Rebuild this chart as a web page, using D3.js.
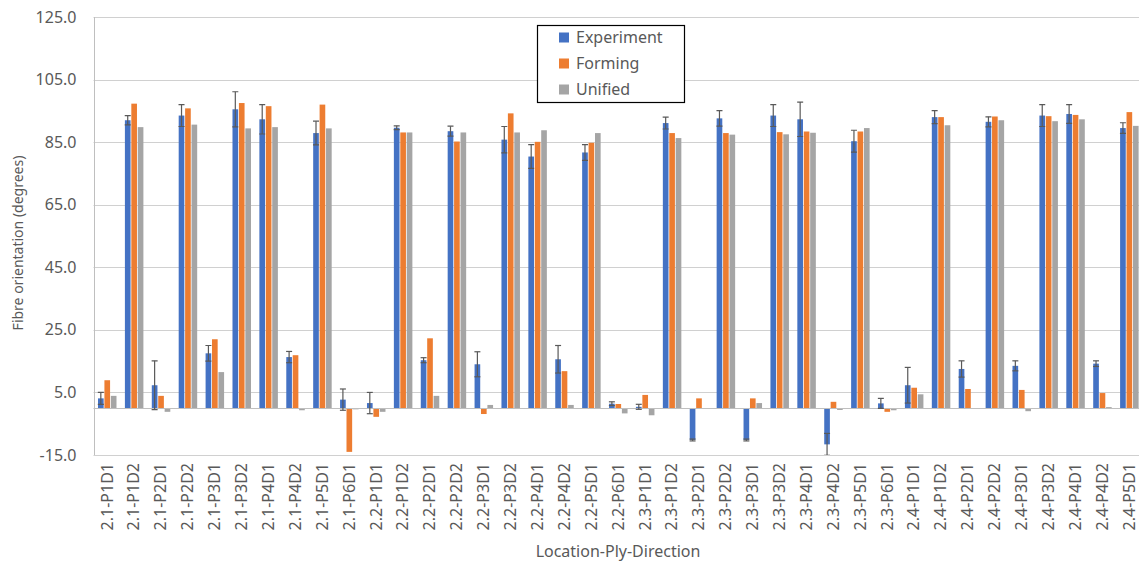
<!DOCTYPE html>
<html>
<head>
<meta charset="utf-8">
<script src="https://cdn.jsdelivr.net/npm/d3@7"></script>
<style>
  html, body { margin: 0; padding: 0; background: #fff; }
  svg { display: block; font-family: "Noto Sans", "Open Sans", sans-serif; }
</style>
</head>
<body>
<svg id="chart" width="1139" height="565"></svg>
<script>
const categories = ["2.1-P1D1","2.1-P1D2","2.1-P2D1","2.1-P2D2","2.1-P3D1","2.1-P3D2","2.1-P4D1","2.1-P4D2","2.1-P5D1","2.1-P6D1",
  "2.2-P1D1","2.2-P1D2","2.2-P2D1","2.2-P2D2","2.2-P3D1","2.2-P3D2","2.2-P4D1","2.2-P4D2","2.2-P5D1","2.2-P6D1",
  "2.3-P1D1","2.3-P1D2","2.3-P2D1","2.3-P2D2","2.3-P3D1","2.3-P3D2","2.3-P4D1","2.3-P4D2","2.3-P5D1","2.3-P6D1",
  "2.4-P1D1","2.4-P1D2","2.4-P2D1","2.4-P2D2","2.4-P3D1","2.4-P3D2","2.4-P4D1","2.4-P4D2","2.4-P5D1"];
const experiment = [3.1, 92.0, 7.3, 93.5, 17.5, 95.5, 92.3, 16.3, 87.9, 2.7,
  1.6, 89.6, 15.3, 88.5, 14.0, 85.8, 80.4, 15.6, 81.7, 1.4,
  0.4, 91.1, -10.2, 92.6, -10.2, 93.5, 92.3, -11.6, 85.3, 1.5,
  7.3, 93.0, 12.5, 91.5, 13.5, 93.5, 94.0, 14.2, 89.5];
const experimentError = [1.9, 1.5, 7.8, 3.5, 2.5, 5.6, 4.7, 1.8, 3.8, 3.4,
  3.4, 0.6, 0.8, 1.6, 4.0, 4.2, 3.8, 4.4, 2.5, 0.6,
  0.8, 1.9, 0.3, 2.5, 0.3, 3.5, 5.5, 3.5, 3.5, 1.6,
  5.7, 2.1, 2.6, 1.6, 1.6, 3.5, 3.0, 0.9, 1.7];
const forming = [8.9, 97.3, 3.9, 95.8, 22.0, 97.5, 96.5, 16.9, 97.0, -14.0,
  -2.8, 88.1, 22.3, 85.2, -1.9, 94.2, 85.1, 11.8, 84.8, 1.3,
  4.2, 87.9, 3.1, 87.9, 3.1, 88.2, 88.4, 2.0, 88.4, -1.2,
  6.5, 93.0, 6.1, 93.2, 5.8, 93.3, 93.7, 4.8, 94.6];
const unified = [3.9, 89.8, -1.2, 90.6, 11.5, 89.4, 89.8, -0.7, 89.4, -0.4,
  -1.2, 88.1, 3.9, 88.1, 1.0, 88.1, 88.8, 1.0, 87.9, -1.7,
  -2.3, 86.3, 0, 87.4, 1.6, 87.5, 88.0, -0.6, 89.5, -0.7,
  4.4, 90.4, 0, 92.0, -1.0, 91.7, 92.3, 0.3, 90.2];
const seriesNames = ["Experiment", "Forming", "Unified"];
const seriesColors = ["#4472C4", "#ED7D31", "#A5A5A5"];
const yTicks = [-15, 5, 25, 45, 65, 85, 105, 125];
const yTitle = "Fibre orientation (degrees)";
const xTitle = "Location-Ply-Direction";

const seriesValues = [experiment, forming, unified];

const svg = d3.select("#chart");
const pLeft = 93.5, pRight = 1142.5, pTop = 17, pBottom = 455;

const x = d3.scaleBand().domain(categories).range([pLeft, pRight]).padding(0);
const sub = d3.scaleBand().domain(seriesNames).range([4.5, 23]).paddingInner(0.12);
const y = d3.scaleLinear().domain([-15, 125]).range([pBottom, pTop]);

svg.append("defs").append("clipPath").attr("id", "plotclip")
  .append("rect").attr("x", pLeft).attr("y", pTop).attr("width", pRight - pLeft).attr("height", pBottom - pTop);

// gridlines
svg.append("g").selectAll("line").data(yTicks).join("line")
  .attr("x1", pLeft).attr("x2", pRight)
  .attr("y1", d => Math.round(y(d)) + 0.5).attr("y2", d => Math.round(y(d)) + 0.5)
  .attr("stroke", "#d0d0d0").attr("stroke-width", 1);

// y axis labels
const fmt = d3.format(".1f");
const yAxis = d3.axisLeft(y).tickValues(yTicks).tickFormat(d => fmt(d).replace("\u2212", "-")).tickSize(0).tickPadding(17);
const yg = svg.append("g").attr("transform", `translate(${pLeft},0)`).call(yAxis);
yg.select(".domain").remove();
yg.selectAll("text").attr("font-size", 16).attr("fill", "#595959").attr("font-family", "Noto Sans, sans-serif");

// left axis line
svg.append("line").attr("x1", Math.round(pLeft) + 0.5).attr("x2", Math.round(pLeft) + 0.5)
  .attr("y1", pTop).attr("y2", pBottom).attr("stroke", "#bfbfbf");

// bars
const barsG = svg.append("g").attr("clip-path", "url(#plotclip)");
seriesNames.forEach((name, si) => {
  barsG.append("g").selectAll("rect").data(categories.map((c, i) => ({c, v: seriesValues[si][i]}))).join("rect")
    .attr("x", d => x(d.c) + sub(name))
    .attr("width", sub.bandwidth())
    .attr("y", d => y(Math.max(0, d.v)))
    .attr("height", d => Math.abs(y(d.v) - y(0)))
    .attr("fill", seriesColors[si]);
});

// zero axis line
svg.append("line").attr("x1", pLeft).attr("x2", pRight)
  .attr("y1", Math.round(y(0)) + 0.5).attr("y2", Math.round(y(0)) + 0.5)
  .attr("stroke", "#bfbfbf").attr("stroke-width", 1.2);

// error bars on Experiment
const errG = svg.append("g").attr("clip-path", "url(#plotclip)").attr("stroke", "#595959").attr("stroke-width", 1.2);
categories.forEach((c, i) => {
  const cx = x(c) + sub("Experiment") + sub.bandwidth() / 2;
  const v = experiment[i], e = experimentError[i];
  errG.append("line").attr("x1", cx).attr("x2", cx).attr("y1", y(v + e)).attr("y2", y(v - e));
  errG.append("line").attr("x1", cx - 3).attr("x2", cx + 3).attr("y1", y(v + e)).attr("y2", y(v + e));
  errG.append("line").attr("x1", cx - 3).attr("x2", cx + 3).attr("y1", y(v - e)).attr("y2", y(v - e));
});

// x tick labels
svg.append("g").selectAll("text").data(categories).join("text")
  .attr("transform", d => `translate(${x(d) + x.bandwidth() / 2},463) rotate(-90)`)
  .attr("text-anchor", "end").attr("dy", "0.35em")
  .attr("font-size", 16).attr("fill", "#595959")
  .text(d => d);

// axis titles
svg.append("text").attr("x", (pLeft + pRight) / 2).attr("y", 557)
  .attr("text-anchor", "middle").attr("font-size", 16).attr("fill", "#595959").text(xTitle);
svg.append("text").attr("transform", `translate(23,243) rotate(-90)`)
  .attr("text-anchor", "middle").attr("font-size", 14).attr("fill", "#595959").text(yTitle);

// legend
const lg = svg.append("g");
lg.append("rect").attr("x", 537.5).attr("y", 25.5).attr("width", 147).attr("height", 77)
  .attr("fill", "#fff").attr("stroke", "#000").attr("stroke-width", 1.2);
seriesNames.forEach((name, i) => {
  const cy = 37.5 + i * 26;
  lg.append("rect").attr("x", 559).attr("y", cy - 5).attr("width", 10).attr("height", 10).attr("fill", seriesColors[i]);
  lg.append("text").attr("x", 576).attr("y", cy).attr("dy", "0.35em")
    .attr("font-size", 16).attr("fill", "#595959").text(name);
});
</script>
</body>
</html>
